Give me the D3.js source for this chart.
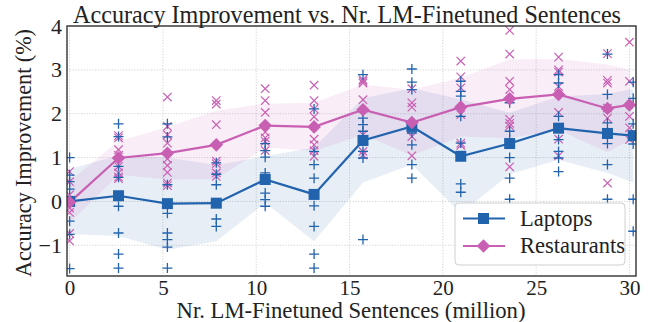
<!DOCTYPE html>
<html lang="en">
<head>
<meta charset="utf-8">
<title>Accuracy Improvement</title>
<script src="https://cdn.jsdelivr.net/npm/d3@7/dist/d3.min.js"></script>
<style>
body { margin: 0; background: #fff; }
text { font-family: "Liberation Serif", "DejaVu Serif", serif; fill: #222; }
.grid line { stroke: #c8c8c8; stroke-width: 0.8; stroke-dasharray: 1.2,1.6; }
</style>
</head>
<body>
<div id="main"></div>
<script>

////////////////////////////////// data //////////////////////////////////

var xLaptops     = [0, 2.62, 5.24, 7.86, 10.48, 13.1, 15.72, 18.34, 20.96, 23.58, 26.2, 28.82, 30.2]
var xRestaurants = [0, 2.62, 5.24, 7.86, 10.48, 13.1, 15.72, 18.34, 20.96, 23.58, 26.2, 28.82, 30.0]

var laptopMean = [0, 0.13, -0.05, -0.04, 0.5, 0.16, 1.39, 1.71, 1.03, 1.32, 1.67, 1.55, 1.5]
var laptopStd  = [0.74, 0.92, 1.05, 0.87, 0.53, 1.07, 0.96, 0.87, 1.3, 0.7, 0.72, 0.9, 1.07]

var restMean = [-0.02, 0.99, 1.1, 1.29, 1.73, 1.7, 2.09, 1.8, 2.15, 2.34, 2.44, 2.12, 2.2]
var restStd  = [0.48, 0.38, 0.6, 0.78, 0.5, 0.55, 0.57, 0.75, 0.67, 0.9, 0.81, 1.0, 0.8]

// individual runs (one list per x position)
var laptopRuns = [
  [1.0, 0.6, 0.45, 0.28, -0.45, -0.75, -1.53],
  [1.77, 1.48, 0.8, 0.55, -0.11, -0.72, -1.2, -1.52],
  [1.77, 1.47, 0.38, -0.27, -0.72, -0.87, -1.04, -1.52],
  [0.88, 0.62, 0.38, -0.4, -0.57],
  [1.32, 1.16, 1.01, 0.65, 0.19, 0.04, -0.11],
  [2.11, 1.14, 0.84, 0.53, -0.1, -0.57, -1.2, -1.52],
  [2.89, 2.05, 1.9, 1.75, 1.6, 1.14, 0.99, -0.87],
  [3.02, 2.72, 2.55, 1.56, 1.29, 0.84, 0.53],
  [2.74, 2.51, 2.4, 1.94, 1.33, 0.4, 0.21],
  [2.25, 1.6, 1.41, 1.0, 0.53, 0.05],
  [2.89, 2.7, 1.94, 1.41, 1.14, 0.99, 0.68],
  [3.36, 2.44, 1.79, 1.32, 0.84, 0.05],
  [2.72, 2.35, 1.77, 1.31, 0.05, -0.68]
]
var restRuns = [
  [0.68, 0.45, 0.15, 0.0, -0.15, -0.25, -0.73, -0.9],
  [1.5, 1.45, 1.18, 1.05, 0.8, 0.65, 0.56, 0.52],
  [2.38, 1.71, 1.52, 1.33, 0.97, 0.82, 0.66, 0.42, 0.36],
  [2.3, 2.22, 1.75, 0.92, 0.86, 0.65, 0.57],
  [2.57, 2.3, 2.03, 1.58, 1.45, 1.37, 1.16],
  [2.65, 2.3, 2.11, 1.93, 1.42, 1.29, 1.16, 1.03],
  [2.78, 2.74, 2.7, 2.32, 1.52, 1.42, 1.14, 1.06],
  [2.57, 2.25, 2.15, 1.65, 1.48, 1.04],
  [3.2, 2.84, 2.59, 1.98, 1.33, 1.28],
  [3.9, 3.36, 2.74, 2.55, 1.87, 1.78, 1.72, 0.79],
  [3.29, 3.0, 2.95, 2.62, 2.03, 1.42, 1.04],
  [3.37, 2.76, 2.7, 2.13, 1.9, 1.56, 0.42],
  [3.63, 2.74, 1.94, 1.68, 1.41]
]

var xTicks = [0, 5, 10, 15, 20, 25, 30]
var yTicks = [-1, 0, 1, 2, 3, 4]

var blue = "#2263ae", pink = "#c95fb2"

////////////////////////////////// setup //////////////////////////////////

var W = 648, H = 322
var pLeft = 67, pRight = 636, pTop = 26, pBottom = 276
var serif = "'Liberation Serif', 'DejaVu Serif', serif"

var svg = d3.select("#main").append("svg").attr("width", W).attr("height", H)

var x = d3.scaleLinear().domain([-0.14, 30.35]).range([pLeft, pRight])
var y = d3.scaleLinear().domain([-1.7, 4]).range([pBottom, pTop])

// grid
svg.append("g").attr("class", "grid").selectAll("line").data(xTicks).enter().append("line")
  .attr("x1", d => x(d)).attr("x2", d => x(d)).attr("y1", pTop).attr("y2", pBottom)
svg.append("g").attr("class", "grid").selectAll("line").data(yTicks).enter().append("line")
  .attr("x1", pLeft).attr("x2", pRight).attr("y1", d => y(d)).attr("y2", d => y(d))

svg.append("clipPath").attr("id", "clip").append("rect")
  .attr("x", pLeft).attr("y", pTop).attr("width", pRight - pLeft).attr("height", pBottom - pTop)
var plot = svg.append("g").attr("clip-path", "url(#clip)")

// std bands
function band(xs, m, s) {
  return d3.area().x((d, i) => x(xs[i])).y0((d, i) => y(m[i] - s[i])).y1((d, i) => y(m[i] + s[i]))(m)
}
plot.append("path").attr("d", band(xLaptops, laptopMean, laptopStd)).attr("fill", blue).attr("fill-opacity", 0.11)
plot.append("path").attr("d", band(xRestaurants, restMean, restStd)).attr("fill", pink).attr("fill-opacity", 0.11)

// scatter of runs
function flat(xs, runs) {
  var out = []
  runs.forEach((r, i) => r.forEach(v => out.push([xs[i], v])))
  return out
}
var a = 4.2
plot.append("g").selectAll("path").data(flat(xRestaurants, restRuns)).enter().append("path")
  .attr("d", d => { var cx = x(d[0]), cy = y(d[1]); return "M" + (cx - a) + "," + (cy - a) + "L" + (cx + a) + "," + (cy + a) + "M" + (cx - a) + "," + (cy + a) + "L" + (cx + a) + "," + (cy - a) })
  .attr("stroke", pink).attr("stroke-width", 1.2).attr("fill", "none")
var p = 5
plot.append("g").selectAll("path").data(flat(xLaptops, laptopRuns)).enter().append("path")
  .attr("d", d => { var cx = x(d[0]), cy = y(d[1]); return "M" + (cx - p) + "," + cy + "L" + (cx + p) + "," + cy + "M" + cx + "," + (cy - p) + "L" + cx + "," + (cy + p) })
  .attr("stroke", blue).attr("stroke-width", 1.3).attr("fill", "none")

// mean lines
var line = (xs) => d3.line().x((d, i) => x(xs[i])).y(d => y(d))
plot.append("path").attr("d", line(xLaptops)(laptopMean)).attr("stroke", blue).attr("stroke-width", 2.2).attr("fill", "none")
plot.append("path").attr("d", line(xRestaurants)(restMean)).attr("stroke", pink).attr("stroke-width", 2.2).attr("fill", "none")

plot.append("g").selectAll("rect").data(laptopMean).enter().append("rect")
  .attr("x", (d, i) => x(xLaptops[i]) - 5.5).attr("y", d => y(d) - 5.5)
  .attr("width", 11).attr("height", 11).attr("fill", blue)
var dia = d3.symbol().type(d3.symbolSquare).size(92)
plot.append("g").selectAll("path").data(restMean).enter().append("path")
  .attr("d", dia).attr("fill", pink)
  .attr("transform", (d, i) => "translate(" + x(xRestaurants[i]) + "," + y(d) + ") rotate(45)")

// frame
svg.append("rect").attr("x", pLeft).attr("y", pTop).attr("width", pRight - pLeft).attr("height", pBottom - pTop)
  .attr("fill", "none").attr("stroke", "#333").attr("stroke-width", 1.4)

// axes
var xAxis = svg.append("g").attr("transform", "translate(0," + pBottom + ")")
  .call(d3.axisBottom(x).tickValues(xTicks).tickSize(0).tickFormat(d3.format("d")))
var yAxis = svg.append("g").attr("transform", "translate(" + pLeft + ",0)")
  .call(d3.axisLeft(y).tickValues(yTicks).tickSize(0).tickPadding(5).tickFormat(d => d < 0 ? "\u2212" + (-d) : d))
svg.selectAll(".domain").remove()
xAxis.attr("font-family", serif).attr("font-size", 21)
yAxis.attr("font-family", serif).attr("font-size", 22)
svg.selectAll(".tick text").attr("fill", "#222").style("font-family", serif)
xAxis.selectAll(".tick text").attr("y", 19).attr("dy", 0)

// titles
svg.append("text").attr("x", 347).attr("y", 23).attr("text-anchor", "middle")
  .attr("font-size", 25).attr("textLength", 548).attr("lengthAdjust", "spacingAndGlyphs")
  .text("Accuracy Improvement vs. Nr. LM-Finetuned Sentences")
svg.append("text").attr("x", 351).attr("y", 318).attr("text-anchor", "middle")
  .attr("font-size", 23).attr("textLength", 349).attr("lengthAdjust", "spacingAndGlyphs")
  .text("Nr. LM-Finetuned Sentences (million)")
svg.append("text").attr("transform", "translate(31,153) rotate(-90)").attr("text-anchor", "middle")
  .attr("font-size", 23).attr("textLength", 248).attr("lengthAdjust", "spacingAndGlyphs")
  .text("Accuracy Improvement (%)")

// legend
var lg = svg.append("g").attr("transform", "translate(455,203)")
lg.append("rect").attr("width", 170).attr("height", 62).attr("rx", 4)
  .attr("fill", "#fff").attr("fill-opacity", 0.85).attr("stroke", "#d0d0d0").attr("stroke-width", 1)
var items = [["Laptops", blue, "sq"], ["Restaurants", pink, "di"]]
items.forEach(function (it, i) {
  var cy = 15.5 + i * 27.5
  lg.append("line").attr("x1", 8).attr("x2", 50).attr("y1", cy).attr("y2", cy).attr("stroke", it[1]).attr("stroke-width", 2.2)
  if (it[2] == "sq") lg.append("rect").attr("x", 23).attr("y", cy - 5.5).attr("width", 11).attr("height", 11).attr("fill", it[1])
  else lg.append("path").attr("d", dia).attr("fill", it[1]).attr("transform", "translate(28.5," + cy + ") rotate(45)")
  lg.append("text").attr("x", 65).attr("y", cy + 7).attr("font-size", 22.5).style("font-family", serif).text(it[0])
})

</script>
</body>
</html>
